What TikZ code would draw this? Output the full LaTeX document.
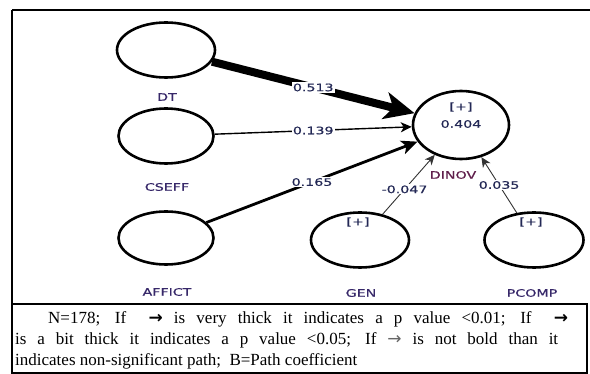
\documentclass[tikz,border=0pt]{standalone}
\usepackage{fontspec}
\setmainfont{Liberation Serif}
\newfontfamily\lblfont[FakeStretch=1.38,FakeBold=0.6]{DejaVu Sans}
\newfontfamily\arrfont{DejaVu Sans}
\usetikzlibrary{shapes.geometric,arrows.meta}
\definecolor{lblc}{RGB}{55,40,105}
\definecolor{numc}{RGB}{35,40,85}
\definecolor{dinovc}{RGB}{95,30,75}
\begin{document}
\begin{tikzpicture}[x=1pt,y=-1pt,
  lv/.style={draw,ellipse,line width=2.6pt,inner sep=0pt},
  lbl/.style={font=\lblfont\fontsize{10.3}{12}\selectfont,text=lblc,inner sep=0pt},
  num/.style={font=\lblfont\fontsize{10.3}{12}\selectfont,text=numc,fill=white,inner sep=1.2pt},
  inr/.style={font=\lblfont\fontsize{10.3}{12}\selectfont,text=numc,inner sep=0pt},
  border/.style={line width=2pt},
  captext/.style={font=\fontsize{17}{21}\selectfont,anchor=base west,inner sep=0pt}]
\useasboundingbox (0,0) rectangle (590,374);
% frames
\draw[border] (12,10) -- (590,10);
\draw[border] (12,10) -- (12,374);
\draw[border] (12,304) -- (587,304) -- (587,373) -- (12,373);
% latent variables
\node[lv,minimum width=98pt,minimum height=55pt] (DT) at (166,50) {};
\node[lv,minimum width=95pt,minimum height=55pt] (CSEFF) at (166,136) {};
\node[lv,minimum width=95pt,minimum height=53pt] (AFFICT) at (166,238) {};
\node[lv,minimum width=96pt,minimum height=68pt] (DINOV) at (461,125) {};
\node[lv,minimum width=98pt,minimum height=55pt] (GEN) at (360,240) {};
\node[lv,minimum width=99pt,minimum height=55pt] (PCOMP) at (534,240) {};
% labels
\node[lbl] (lDT) at (167,97) {DT};
\node[lbl] (lCSEFF) at (167,187) {CSEFF};
\node[lbl] (lAFFICT) at (167,292) {AFFICT};
\node[lbl,text=dinovc] (lDINOV) at (453,175) {DINOV};
\node[lbl] (lGEN) at (361,293) {GEN};
\node[lbl] (lPCOMP) at (532,293) {PCOMP};
\node[inr] (pDINOV) at (461,107) {[+]};
\node[inr] (rDINOV) at (461,124) {0.404};
\node[inr] (pGEN) at (358,222) {[+]};
\node[inr] (pPCOMP) at (531,222) {[+]};
% paths
\draw[line width=8pt,-{Stealth[length=30pt,width=27pt,inset=8pt]}] (DT) -- node[num,pos=0.5] {0.513} (DINOV);
\draw[line width=1.4pt,-{Stealth[length=11pt,width=10pt,inset=3pt]}] (CSEFF) -- node[num,pos=0.5] {0.139} (DINOV);
\draw[line width=2.8pt,-{Stealth[length=16pt,width=14pt,inset=4pt]}] (AFFICT) -- node[num,pos=0.5] {0.165} (DINOV);
\draw[line width=0.9pt,draw=black!80,-{Stealth[length=10pt,width=9pt,inset=3pt]}] (GEN) -- node[num,pos=0.42] {-0.047} (DINOV);
\draw[line width=0.9pt,draw=black!80,-{Stealth[length=10pt,width=9pt,inset=3pt]}] (PCOMP) -- node[num,pos=0.5] {0.035} (DINOV);
% caption
\node[captext] (c1) at (48,324) {\makebox[520pt][s]{N=178; If\ \ {\arrfont\bfseries →} is very thick it indicates a p value <0.01; If\ \ {\arrfont\bfseries →}}};
\node[captext] (c2) at (15,345) {\makebox[543pt][s]{is a bit thick it indicates a p value <0.05; If {\color{black!60}\arrfont →} is not bold than it}};
\node[captext] (c3) at (15,366) {indicates non-significant path;\ \ B=Path coefficient};
\end{tikzpicture}
\end{document}
